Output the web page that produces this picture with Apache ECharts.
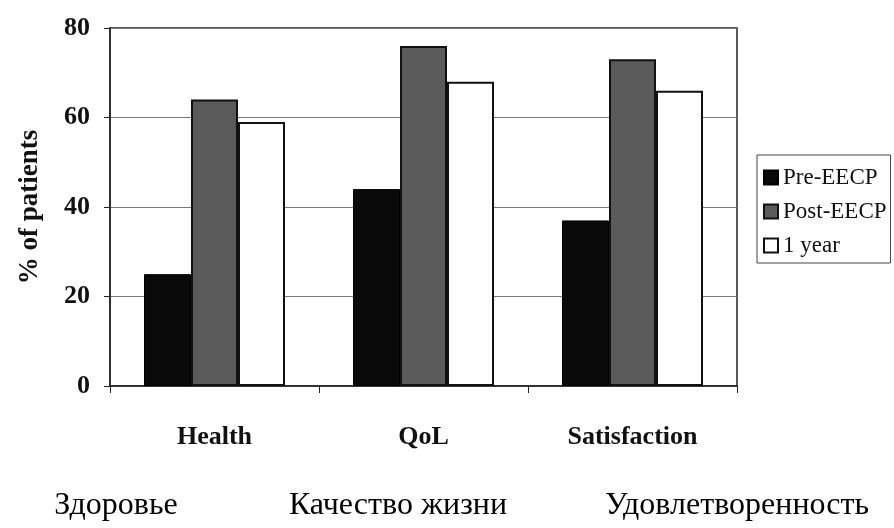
<!DOCTYPE html>
<html>
<head>
<meta charset="utf-8">
<script src="https://cdn.jsdelivr.net/npm/echarts@6/dist/echarts.min.js"></script>
<style>
  html, body { margin: 0; padding: 0; background: #fff; }
  #chart { width: 894px; height: 528px; }
</style>
</head>
<body>
<div id="chart"></div>
<script>
// данные
var categories = ["Health", "QoL", "Satisfaction"];
var preEECP = [25, 44, 37];
var postEECP = [64, 76, 73];
var oneYear = [59, 68, 66];
var yTicks = [0, 20, 40, 60, 80];
var ruLabels = ["Здоровье", "Качество жизни", "Удовлетворенность"];

var serif = "'Liberation Serif', 'Times New Roman', serif";

var chart = echarts.init(document.getElementById("chart"));

// подписи по-русски внизу
var ruX = [116, 398, 737];
var ruText = ruLabels.map(function (t, i) {
  return {
    type: "text",
    x: ruX[i],
    y: 522,
    style: {
      text: t,
      font: "32px " + serif,
      fill: "#000",
      textAlign: "center",
      textVerticalAlign: "bottom"
    }
  };
});

chart.setOption({
  backgroundColor: "#fff",
  animation: false,
  grid: {
    left: 110,
    right: 157,
    top: 28,
    bottom: 142,
    show: true,
    borderColor: "#222",
    borderWidth: 1.5
  },
  legend: {
    orient: "vertical",
    left: 757,
    top: 155,
    data: ["Pre-EECP", "Post-EECP", "1 year"],
    icon: "rect",
    itemWidth: 14,
    itemHeight: 14,
    itemGap: 11,
    padding: [11, 4, 6, 6],
    borderColor: "#444",
    borderWidth: 1,
    textStyle: {
      fontFamily: serif,
      fontSize: 23,
      color: "#111"
    }
  },
  xAxis: {
    type: "category",
    data: categories,
    axisLine: { lineStyle: { color: "#222", width: 1.5 } },
    axisTick: { show: true, length: 7, lineStyle: { color: "#222" } },
    axisLabel: {
      margin: 38,
      fontFamily: serif,
      fontWeight: "bold",
      fontSize: 26,
      color: "#111"
    }
  },
  yAxis: {
    type: "value",
    min: 0,
    max: 80,
    interval: 20,
    name: "% of patients",
    nameLocation: "middle",
    nameRotate: 90,
    nameGap: 66,
    nameTextStyle: {
      fontFamily: serif,
      fontWeight: "bold",
      fontSize: 27,
      color: "#111"
    },
    axisLine: { show: true, lineStyle: { color: "#222", width: 1.5 } },
    axisTick: { show: true, length: 6, lineStyle: { color: "#222" } },
    axisLabel: {
      margin: 20,
      fontFamily: serif,
      fontWeight: "bold",
      fontSize: 26,
      color: "#111",
      formatter: function (v) {
        return yTicks.indexOf(v) >= 0 ? v : "";
      }
    },
    splitLine: { lineStyle: { color: "#777", width: 1 } }
  },
  series: [
    {
      name: "Pre-EECP",
      type: "bar",
      data: preEECP,
      barWidth: 47,
      barGap: "0%",
      itemStyle: { color: "#0a0a0a", borderColor: "#000", borderWidth: 1 }
    },
    {
      name: "Post-EECP",
      type: "bar",
      data: postEECP,
      barWidth: 47,
      barGap: "0%",
      itemStyle: { color: "#5a5a5a", borderColor: "#111", borderWidth: 2 }
    },
    {
      name: "1 year",
      type: "bar",
      data: oneYear,
      barWidth: 47,
      barGap: "0%",
      itemStyle: { color: "#fff", borderColor: "#111", borderWidth: 2 }
    }
  ],
  graphic: ruText
});

window.addEventListener("resize", function () {
  chart.resize();
});
</script>
</body>
</html>
